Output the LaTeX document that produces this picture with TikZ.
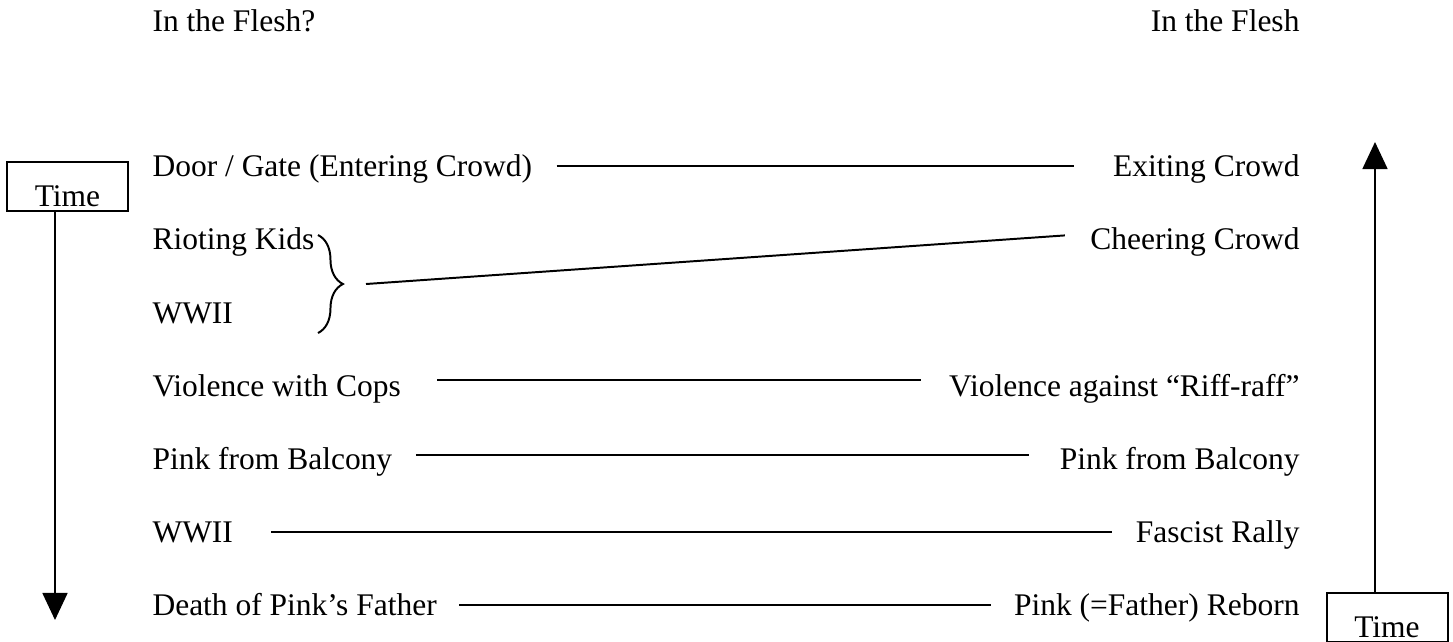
\documentclass[tikz,border=0pt]{standalone}
\usepackage{fontspec}
\setmainfont{Liberation Serif}
\usetikzlibrary{arrows.meta,calc,decorations.pathreplacing}
\newcommand{\pxu}{0.381pt}

\begin{document}
\begin{tikzpicture}[x=\pxu, y=-\pxu, font=\fontsize{12}{14}\selectfont,
    lbl/.style={inner sep=0pt, text height=8pt, text depth=0pt},
    lcol/.style={lbl, anchor=base west},
    rcol/.style={lbl, anchor=base east},
    link/.style={line width=0.75pt},
    tbox/.style={draw, line width=0.75pt, inner sep=0pt, minimum width=46.1pt, minimum height=18.7pt, text height=8pt, text depth=0pt},
    flow/.style={line width=0.75pt, -{Triangle[width=9.5pt,length=10.3pt]}}]
    \useasboundingbox (0,0) rectangle (1453,641);
    \clip (0,0) rectangle (1453,641);

    % Titles
    \node[lcol] (title-l) at (152,31) {In the Flesh?};
    \node[rcol] (title-r) at (1300,31) {In the Flesh};

    % Left column
    \node[lcol] (l-1) at (152,176.7) {Door / Gate (Entering Crowd)};
    \node[lcol] (l-2) at (152,249.9) {Rioting Kids};
    \node[lcol] (l-3) at (152,323.1) {WWII};
    \node[lcol] (l-4) at (152,396.3) {Violence with Cops};
    \node[lcol] (l-5) at (152,469.5) {Pink from Balcony};
    \node[lcol] (l-6) at (152,542.7) {WWII};
    \node[lcol] (l-7) at (152,615.9) {Death of Pink's Father};

    % Right column
    \node[rcol] (r-1) at (1300,176.7) {Exiting Crowd};
    \node[rcol] (r-2) at (1300,249.9) {Cheering Crowd};
    \node[rcol] (r-4) at (1300,396.3) {Violence against ``Riff-raff''};
    \node[rcol] (r-5) at (1300,469.5) {Pink from Balcony};
    \node[rcol] (r-6) at (1300,542.7) {Fascist Rally};
    \node[rcol] (r-7) at (1300,615.9) {Pink (=Father) Reborn};

    % Brace round kids and war
    \draw[decorate, decoration={brace, amplitude=9.5pt}, line width=0.75pt] (318,235) -- (318,333);
    \coordinate (kids) at (366,284);

    % Links
    \draw[link] ($(l-1.east)+(24,0)$) -- ($(r-1.west)+(-39,0)$);
    \draw[link] (kids) -- ($(r-2.west)+(-25,-4)$);
    \draw[link] ($(l-4.east)+(36,-6)$) -- ($(r-4.west)+(-28,-6)$);
    \draw[link] ($(l-5.east)+(23,-4)$) -- ($(r-5.west)+(-30,-4)$);
    \draw[link] ($(l-6.east)+(38,0)$) -- ($(r-6.west)+(-23,0)$);
    \draw[link] ($(l-7.east)+(22,0)$) -- ($(r-7.west)+(-23,0)$);

    % Time arrows
    \node[tbox] (time-l) at (67.5,186.5) {\raisebox{-3.5pt}{Time}};
    \coordinate (past) at (55,620);
    \draw[flow] ($(time-l.south)+(-12.5,0)$) -- (past);

    \node[tbox] (time-r) at (1387,617.5) {\raisebox{-3.8pt}{Time}};
    \coordinate (now) at (1375,142);
    \draw[flow] ($(time-r.north)+(-12,0)$) -- (now);

\end{tikzpicture}
\end{document}
